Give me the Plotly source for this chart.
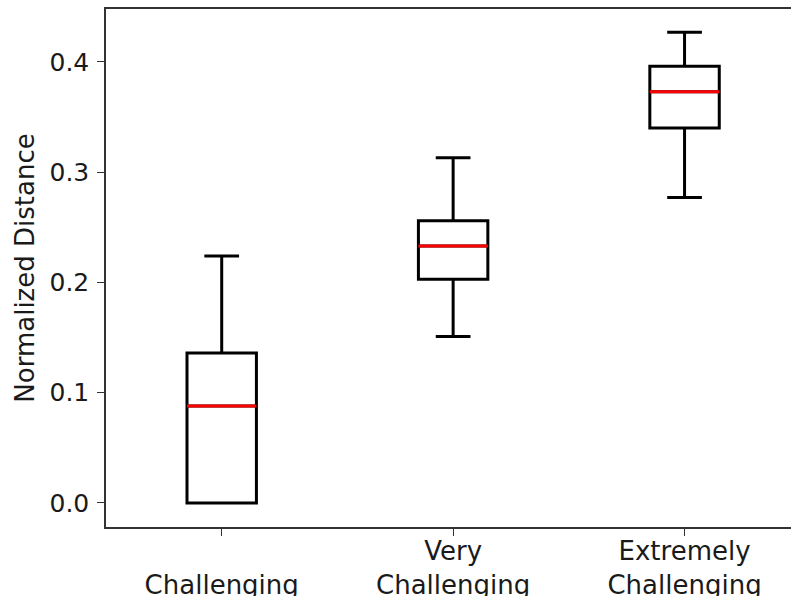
import plotly.graph_objects as go

categories = ["Challenging", "Very Challenging", "Extremely Challenging"]
tick_labels = ["<br>Challenging", "Very<br>Challenging", "Extremely<br>Challenging"]
positions = [1, 2, 3]
lower_whisker = [0.000, 0.151, 0.277]
q1 = [0.000, 0.203, 0.340]
median = [0.088, 0.233, 0.373]
q3 = [0.136, 0.256, 0.396]
upper_whisker = [0.224, 0.313, 0.427]

BOX_W = 0.3
FONT = "DejaVu Sans"

fig = go.Figure()
for i, name in enumerate(categories):
    fig.add_trace(go.Box(
        x=[positions[i]], q1=[q1[i]], median=[median[i]], q3=[q3[i]],
        lowerfence=[lower_whisker[i]], upperfence=[upper_whisker[i]],
        width=BOX_W, whiskerwidth=0.5, boxpoints=False,
        line=dict(color="black", width=3), fillcolor="rgba(0,0,0,0)",
        name=name, showlegend=False, hoverinfo="skip",
    ))
for i, name in enumerate(categories):
    fig.add_trace(go.Scatter(
        x=[positions[i] - BOX_W / 2, positions[i] + BOX_W / 2],
        y=[median[i], median[i]], mode="lines",
        line=dict(color="red", width=3), showlegend=False, hoverinfo="skip",
    ))

fig.update_layout(
    width=791, height=596,
    margin=dict(l=106, r=0, t=9, b=69),
    paper_bgcolor="white", plot_bgcolor="white",
    font=dict(family=FONT, size=26, color="#1a1a1a"),
    xaxis=dict(
        range=[0.5, 3.46], tickmode="array", tickvals=positions, ticktext=tick_labels,
        showline=True, linecolor="#333333", linewidth=1.5, mirror=True,
        ticks="outside", ticklen=7, tickwidth=1.2, tickcolor="#333333",
        showgrid=False, zeroline=False, tickfont=dict(size=26),
        ticklabelstandoff=-7, automargin=False,
    ),
    yaxis=dict(
        range=[-0.0218, 0.448], tickmode="array", tickvals=[0.0, 0.1, 0.2, 0.3, 0.4],
        tickformat=".1f", showline=True, linecolor="#333333", linewidth=1.5, mirror=False,
        ticks="outside", ticklen=7, tickwidth=1.2, tickcolor="#333333",
        showgrid=False, zeroline=False, tickfont=dict(size=25),
        title=dict(text="Normalized Distance", font=dict(size=26), standoff=7),
        ticklabelstandoff=3, automargin=False,
    ),
)
fig.write_html(
    "out.html",
    config={"displayModeBar": False},
    post_script="document.body.style.margin='0px';document.body.style.overflow='hidden';",
)
